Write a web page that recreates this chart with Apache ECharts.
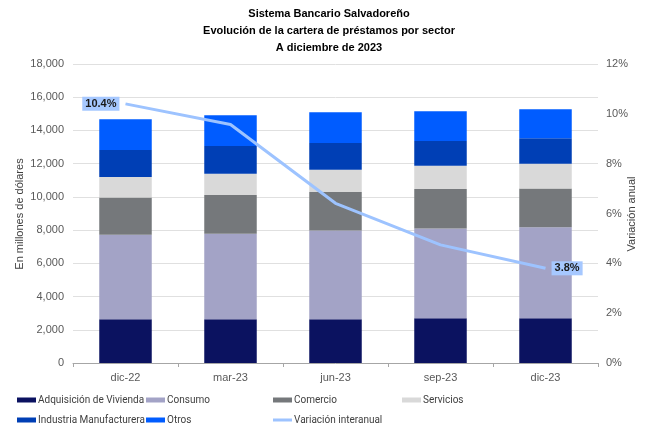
<!DOCTYPE html>
<html><head><meta charset="utf-8">
<script src="https://cdn.jsdelivr.net/npm/echarts@6/dist/echarts.min.js"></script>
<style>html,body{margin:0;padding:0;background:#fff}#c{width:650px;height:427px}</style>
</head><body><div id="c"></div>
<script>
const categories = ['dic-22','mar-23','jun-23','sep-23','dic-23'];
const vivienda = [2640, 2640, 2640, 2700, 2700];
const consumo = [5080, 5140, 5340, 5400, 5470];
const comercio = [2240, 2340, 2320, 2380, 2330];
const servicios = [1230, 1270, 1330, 1400, 1500];
const industria = [1630, 1670, 1620, 1490, 1530];
const otros = [1860, 1860, 1850, 1790, 1750];
const variacion = [10.4, 9.57, 6.41, 4.74, 3.8];
const leftTicks = [0, 18000, 2000];
const rightTicks = [0, 12, 2];

const FONT = 'Liberation Sans';
const LEGFONT = 'Roboto';
const barSeries = [
  ['Adquisición de Vivienda', vivienda, '#0B1260'],
  ['Consumo', consumo, '#A3A3C6'],
  ['Comercio', comercio, '#75787B'],
  ['Servicios', servicios, '#D9D9D9'],
  ['Industria Manufacturera', industria, '#003FB5'],
  ['Otros', otros, '#005CFF']
].map(([name, data, color]) => ({
  name, type: 'bar', stack: 'a', data, barWidth: '50%',
  itemStyle: { color }, emphasis: { disabled: true }
}));

const lineSeries = {
  name: 'Variación interanual', type: 'line', yAxisIndex: 1, data: variacion.map((v, i) => {
    const o = { value: v };
    if (i === 0) o.label = { show: true, position: 'left', distance: 6 };
    if (i === variacion.length - 1) o.label = { show: true, position: 'right', distance: 6 };
    return o;
  }),
  symbol: 'circle', symbolSize: 0.1, showSymbol: true,
  lineStyle: { color: '#9DC3FF', width: 3 }, itemStyle: { color: '#9DC3FF' },
  label: { show: false, formatter: p => p.value.toFixed(1) + '%', backgroundColor: '#A6C8FF',
    color: '#1a1a1a', fontWeight: 'bold', fontSize: 11, fontFamily: FONT, padding: [2, 3, 1, 3] },
  emphasis: { disabled: true },
  z: 5
};

const legendPos = [
  ['Adquisición de Vivienda', 17, 395],
  ['Consumo', 146, 395],
  ['Comercio', 273, 395],
  ['Servicios', 402, 395],
  ['Industria Manufacturera', 17, 415],
  ['Otros', 146, 415],
  ['Variación interanual', 273, 415]
];
const legends = legendPos.map(([n, l, t]) => ({
  data: [n === 'Variación interanual' ? { name: n, icon: 'rect', itemStyle: { color: '#9DC3FF' } } : n],
  left: l, top: t, itemWidth: 19, itemHeight: n === 'Variación interanual' ? 3 : 5, itemGap: 0,
  icon: 'rect', selectedMode: false, padding: 0,
  textStyle: { fontFamily: LEGFONT, fontSize: 10, color: '#404040', padding: [0, 0, 0, -3] }
}));

const axisNameStyle = { fontFamily: FONT, fontSize: 11, fill: '#404040', align: 'center', verticalAlign: 'middle' };

const chart = echarts.init(document.getElementById('c'), null, { renderer: 'canvas' });
chart.setOption({
  animation: false,
  title: {
    text: 'Sistema Bancario Salvadoreño\nEvolución de la cartera de préstamos por sector\nA diciembre de 2023',
    left: 324, top: 0, textAlign: 'center',
    textStyle: { fontFamily: FONT, fontSize: 11, fontWeight: 'bold', color: '#000', lineHeight: 17 }
  },
  legend: legends,
  graphic: [
    { type: 'text', x: 20, y: 214, rotation: Math.PI / 2, style: Object.assign({ text: 'En millones de dólares' }, axisNameStyle) },
    { type: 'text', x: 632, y: 214, rotation: Math.PI / 2, style: Object.assign({ text: 'Variación anual' }, axisNameStyle) }
  ],
  grid: { left: 73, right: 52, top: 64, bottom: 64, outerBoundsMode: 'none', containLabel: false },
  xAxis: {
    type: 'category', data: categories,
    axisLine: { lineStyle: { color: '#A6A6A6' } },
    axisTick: { show: true, length: 4, lineStyle: { color: '#A6A6A6' } },
    axisLabel: { fontFamily: FONT, fontSize: 11, color: '#595959', margin: 9 }
  },
  yAxis: [{
    type: 'value', min: leftTicks[0], max: leftTicks[1], interval: leftTicks[2],
    axisLabel: { fontFamily: FONT, fontSize: 11, color: '#595959', margin: 9,
      formatter: v => v.toLocaleString('en-US') },
    splitLine: { lineStyle: { color: '#E0E0E0' } },
    axisLine: { show: false }, axisTick: { show: false }
  }, {
    type: 'value', min: rightTicks[0], max: rightTicks[1], interval: rightTicks[2],
    axisLabel: { fontFamily: FONT, fontSize: 11, color: '#595959', margin: 8, formatter: v => v + '%' },
    splitLine: { show: false }, axisLine: { show: false }, axisTick: { show: false }
  }],
  series: [...barSeries, lineSeries]
});
</script></body></html>
